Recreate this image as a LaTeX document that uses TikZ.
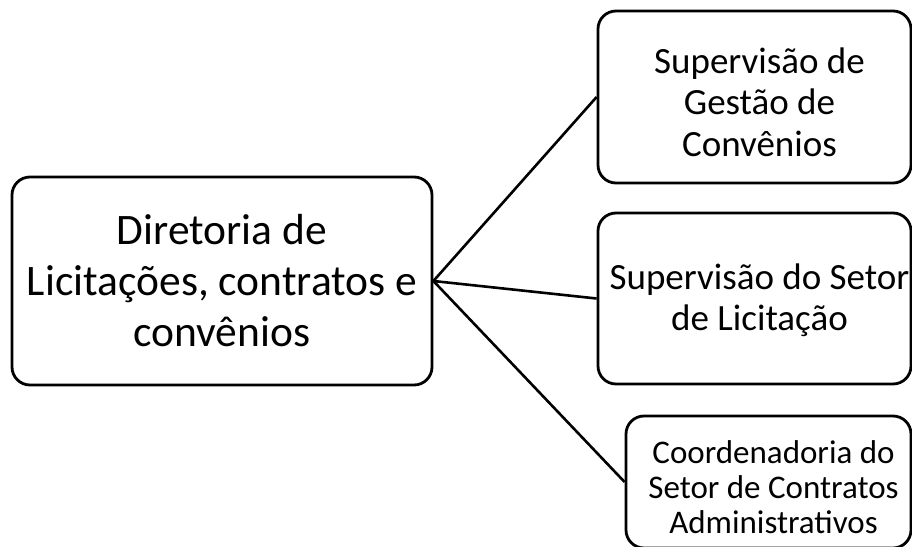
\documentclass[tikz,border=0pt]{standalone}
\usepackage{fontspec}
\setmainfont{Carlito}
\begin{document}
\begin{tikzpicture}[x=1pt,y=-1pt,
  box/.style={draw, line width=2.8pt, rounded corners=18pt, inner sep=0pt},
  txt/.style={align=center, inner sep=0pt},
  bigtxt/.style={txt, font=\fontsize{43.5}{51}\selectfont},
  midtxt/.style={txt, font=\fontsize{37}{41.5}\selectfont},
  smalltxt/.style={txt, font=\fontsize{33}{35}\selectfont},
  conn/.style={line width=2.6pt}]
\useasboundingbox (0,0) rectangle (912,546);
\clip (0,0) rectangle (912,546);
\node[box, minimum width=420pt, minimum height=208pt] (L) at (222,281) {};
\node[bigtxt] (Lt) at (L.center) {Diretoria de\\Licitações, contratos e\\convênios};
\node[box, minimum width=313pt, minimum height=172pt] (A) at (754.5,97) {};
\node[midtxt] (At) at ([xshift=5pt,yshift=-5pt]A.center) {Supervisão de\\Gestão de\\Convênios};
\node[box, minimum width=313pt, minimum height=171pt] (B) at (754.5,298.5) {};
\node[midtxt] (Bt) at ([xshift=5pt,yshift=-2pt]B.center) {Supervisão do Setor\\de Licitação};
\node[box, minimum width=285pt, minimum height=132pt] (C) at (768.5,482) {};
\node[smalltxt] (Ct) at ([xshift=5pt,yshift=-5pt]C.center) {Coordenadoria do\\Setor de Contratos\\Administrativos};
\draw[conn] (L.east) -- (A.west);
\draw[conn] (L.east) -- (B.west);
\draw[conn] (L.east) -- (C.west);
\end{tikzpicture}
\end{document}
